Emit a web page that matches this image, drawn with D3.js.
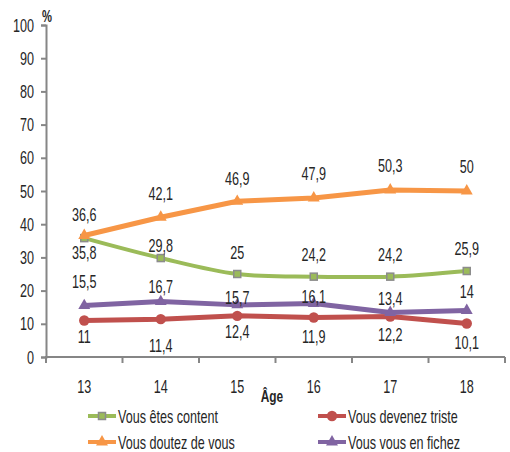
<!DOCTYPE html>
<html>
<head>
<meta charset="utf-8">
<script src="https://cdn.jsdelivr.net/npm/d3@7"></script>
<style>
  html, body { margin: 0; padding: 0; background: #fff; }
  svg text { font-family: "Liberation Sans", Arial, sans-serif; fill: #262626; }
</style>
</head>
<body>
<svg id="chart" width="510" height="452"></svg>
<script>
// Ages on the x axis
const ages = ["13", "14", "15", "16", "17", "18"];
// Percent of respondents, per feeling
const content = [35.8, 29.8, 25, 24.2, 24.2, 25.9];
const triste = [11, 11.4, 12.4, 11.9, 12.2, 10.1];
const doutez = [36.6, 42.1, 46.9, 47.9, 50.3, 50];
const fichez = [15.5, 16.7, 15.7, 16.1, 13.4, 14];
const yTicks = [0, 10, 20, 30, 40, 50, 60, 70, 80, 90, 100];

// Series styling; labelShift = vertical offset of each value label's centre from its point
const series = [
  { name: "Vous êtes content", values: content, color: "#9BBB59", marker: "square", width: 4, smooth: true,
    labelShift: [14, -13, -22, -22, -22, -23] },
  { name: "Vous devenez triste", values: triste, color: "#C0504D", marker: "circle", width: 5, smooth: false,
    labelShift: [16, 26, 16, 19, 18.5, 19] },
  { name: "Vous doutez de vous", values: doutez, color: "#F79646", marker: "triangle", width: 5, smooth: false,
    labelShift: [-21, -24, -23, -24.5, -24.5, -25] },
  { name: "Vous vous en fichez", values: fichez, color: "#8064A2", marker: "triangle", width: 5, smooth: false,
    labelShift: [-24, -15, -7, -7, -14.5, -19] }
];

const svg = d3.select("#chart");
const plotLeft = 46, plotRight = 505, plotTop = 25, plotBottom = 357;
const SX = 0.7;        // horizontal squeeze for the narrow lettering
const FS = 18;         // label font size

const x = d3.scaleBand().domain(ages).range([plotLeft, plotRight]);
const y = d3.scaleLinear().domain([0, 100]).range([plotBottom, plotTop]);

// Narrow text helper: anchored at (px, py) then squeezed horizontally
function label(parent, px, py, str, anchor, size, bold) {
  return parent.append("text")
    .attr("transform", `translate(${px},${py}) scale(${SX},1)`)
    .attr("text-anchor", anchor || "middle")
    .style("font-size", (size || FS) + "px")
    .style("font-weight", bold ? "bold" : "normal")
    .text(str);
}

// Y axis
const yAxis = svg.append("g").attr("transform", `translate(${plotLeft},0)`)
  .call(d3.axisLeft(y).tickValues(yTicks).tickSize(5).tickFormat(""));
yAxis.select(".domain").attr("stroke", "#868686").attr("stroke-width", 2);
yAxis.selectAll(".tick line").attr("stroke", "#868686").attr("stroke-width", 2);
yTicks.forEach(t => label(svg, 34, y(t) + 6.5, String(t), "end"));

// X axis with ticks on band edges
const xAxis = svg.append("g").attr("transform", `translate(0,${plotBottom})`);
xAxis.append("line").attr("x1", plotLeft - 1).attr("x2", plotRight).attr("stroke", "#868686").attr("stroke-width", 2);
const edges = ages.map(a => x(a)).concat([x(ages[ages.length - 1]) + x.bandwidth()]);
xAxis.selectAll("line.edge").data(edges).join("line").attr("class", "edge")
  .attr("x1", d => d).attr("x2", d => d).attr("y1", 0).attr("y2", 6)
  .attr("stroke", "#868686").attr("stroke-width", 2);

const cx = d => x(d) + x.bandwidth() / 2;
ages.forEach(a => label(svg, cx(a), 393, a));

// Axis titles
label(svg, 47, 22, "%", "middle", 16, true);
label(svg, 272, 402, "Âge", "middle", 17, true);

function drawMarker(g, type, color, px, py, scale) {
  const s = scale || 1;
  if (type === "square") {
    g.append("rect").attr("x", px - 3.5 * s).attr("y", py - 3.5 * s).attr("width", 7 * s).attr("height", 7 * s)
      .attr("fill", color).attr("stroke", "#8C8C8C").attr("stroke-width", 1.5);
  } else if (type === "circle") {
    g.append("circle").attr("cx", px).attr("cy", py).attr("r", 5.2 * s).attr("fill", color);
  } else {
    g.append("path").attr("transform", `translate(${px},${py})`)
      .attr("d", d3.symbol().type(d3.symbolTriangle).size(62 * s * s)).attr("fill", color);
  }
}

// Lines with markers
const drawOrder = [series[0], series[1], series[3], series[2]];
drawOrder.forEach(s => {
  const line = d3.line().x((d, i) => cx(ages[i])).y(d => y(d))
    .curve(s.smooth ? d3.curveCatmullRom.alpha(0.5) : d3.curveLinear);
  const g = svg.append("g");
  g.append("path").datum(s.values).attr("d", line).attr("fill", "none")
    .attr("stroke", s.color).attr("stroke-width", s.width).attr("stroke-linejoin", "round");
  s.values.forEach((v, i) => drawMarker(g, s.marker, s.color, cx(ages[i]), y(v)));
});

// Value labels
series.forEach(s => {
  const g = svg.append("g");
  s.values.forEach((v, i) => {
    label(g, cx(ages[i]), y(v) + s.labelShift[i] + 6.5, String(v).replace(".", ","));
  });
});

// Legend
const legendItems = [
  { s: series[0], lx: 88, ly: 416 },
  { s: series[1], lx: 318, ly: 416 },
  { s: series[2], lx: 88, ly: 442 },
  { s: series[3], lx: 318, ly: 442 }
];
legendItems.forEach(it => {
  const g = svg.append("g");
  g.append("line").attr("x1", it.lx).attr("x2", it.lx + 28).attr("y1", it.ly).attr("y2", it.ly)
    .attr("stroke", it.s.color).attr("stroke-width", 4);
  drawMarker(g, it.s.marker, it.s.color, it.lx + 14, it.ly, 1);
  label(g, it.lx + 30, it.ly + 6.5, it.s.name, "start", 18);
});
</script>
</body>
</html>
